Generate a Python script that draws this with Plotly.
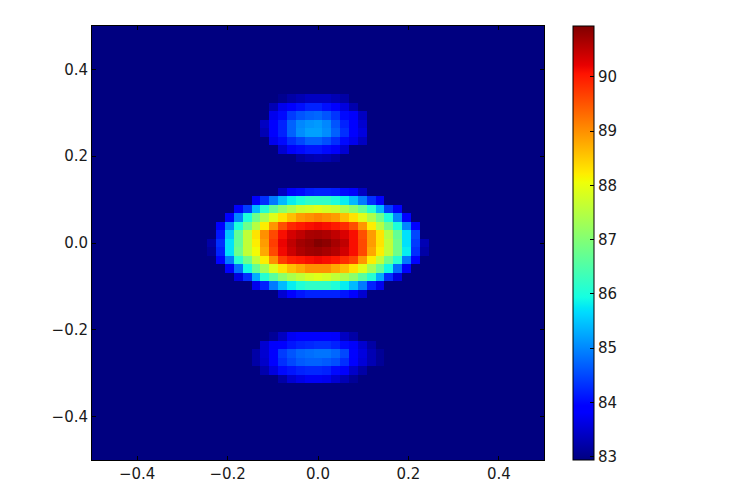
import plotly.graph_objects as go

GRID_SIZE = 51
FLOOR = 82.94

# (row from top, first column, values); everything else sits at the floor value
upper_lobe = [
    (8, 21, [83.05, 83.2, 83.3, 83.4, 83.4, 83.4, 83.3, 83.2]),
    (9, 20, [83.3, 83.7, 83.9, 84.05, 84.2, 84.2, 84.05, 83.9, 83.6, 83.25]),
    (10, 20, [83.7, 84.0, 84.4, 84.6, 84.7, 84.75, 84.6, 84.35, 84.0, 83.8, 83.4]),
    (11, 19, [83.4, 83.9, 84.2, 84.7, 85.0, 85.1, 85.15, 85.0, 84.6, 84.2, 83.9, 83.5]),
    (12, 19, [83.3, 83.9, 84.2, 84.7, 85.05, 85.2, 85.2, 85.05, 84.7, 84.3, 83.9, 83.6]),
    (13, 20, [83.7, 84.0, 84.3, 84.5, 84.7, 84.7, 84.55, 84.3, 84.0, 83.7, 83.4]),
    (14, 21, [83.5, 83.8, 84.0, 84.1, 84.1, 84.0, 83.8, 83.5]),
    (15, 23, [83.15, 83.25, 83.3, 83.25, 83.15]),
]

central_lobe = [
    (19, 21, [83.4, 83.8, 84.0, 84.15, 84.2, 84.2, 84.15, 84.0, 83.8, 83.4]),
    (20, 18, [83.8, 84.3, 84.9, 85.4, 85.8, 86.0, 86.2, 86.2, 86.2, 86.0, 85.8, 85.4, 84.9, 84.3, 83.8]),
    (21, 16, [83.8, 84.4, 85.4, 86.1, 86.7, 87.1, 87.4, 87.7, 87.8, 87.9, 87.8, 87.7, 87.4, 87.1, 86.7, 86.1, 85.4, 84.4, 83.8]),
    (22, 15, [83.9, 85.0, 86.0, 86.8, 87.4, 87.9, 88.3, 88.6, 88.9, 89.0, 89.1, 89.0, 88.9, 88.6, 88.3, 87.9, 87.4, 86.8, 86.0, 85.0, 83.9]),
    (23, 14, [83.9, 85.0, 86.0, 86.8, 87.5, 88.2, 88.95, 89.55, 89.9, 90.02, 90.1, 90.15, 90.1, 90.0, 89.85, 89.55, 88.95, 88.2, 87.5, 86.8, 86.0, 85.0, 83.9]),
    (24, 14, [84.1, 85.5, 86.7, 87.6, 88.3, 89.0, 89.6, 90.1, 90.35, 90.5, 90.65, 90.68, 90.62, 90.5, 90.32, 90.1, 89.55, 88.9, 88.3, 87.5, 86.7, 85.7, 84.5]),
    (25, 13, [83.2, 84.3, 85.7, 86.7, 87.6, 88.2, 88.9, 89.7, 90.2, 90.5, 90.7, 90.78, 90.92, 90.85, 90.68, 90.5, 90.1, 89.6, 88.9, 88.3, 87.6, 86.8, 85.7, 84.4, 83.3]),
    (26, 13, [83.1, 84.2, 85.7, 86.8, 87.6, 88.1, 88.8, 89.6, 90.15, 90.42, 90.62, 90.72, 90.75, 90.68, 90.57, 90.38, 90.1, 89.6, 88.8, 88.2, 87.6, 86.8, 85.8, 84.3, 83.2]),
    (27, 14, [83.9, 84.9, 86.1, 86.8, 87.6, 88.2, 89.0, 89.7, 89.95, 90.03, 90.1, 90.15, 90.1, 90.03, 89.85, 89.65, 88.95, 88.2, 87.6, 86.8, 86.1, 84.9, 83.9]),
    (28, 15, [83.8, 84.8, 85.9, 86.7, 87.3, 87.9, 88.3, 88.6, 88.8, 89.0, 89.0, 89.0, 88.8, 88.6, 88.3, 87.9, 87.3, 86.7, 85.9, 84.8, 83.8]),
    (29, 16, [83.6, 84.3, 85.3, 86.1, 86.6, 87.1, 87.4, 87.6, 87.8, 87.9, 87.8, 87.6, 87.4, 87.1, 86.6, 86.1, 85.3, 84.3, 83.6]),
    (30, 18, [83.7, 84.2, 84.9, 85.4, 85.8, 86.05, 86.2, 86.2, 86.2, 86.05, 85.8, 85.4, 84.9, 84.2, 83.7]),
    (31, 21, [83.5, 83.9, 84.1, 84.2, 84.2, 84.2, 84.2, 84.1, 83.9, 83.5]),
]

lower_lobe = [
    (36, 20, [83.1, 83.4, 83.75, 83.85, 83.9, 83.9, 83.9, 83.8, 83.4, 83.2]),
    (37, 19, [83.5, 83.8, 83.9, 84.1, 84.2, 84.25, 84.3, 84.3, 84.2, 84.0, 83.8, 83.5, 83.2]),
    (38, 18, [83.2, 83.5, 83.9, 84.4, 84.6, 84.75, 84.8, 84.85, 84.85, 84.75, 84.5, 83.95, 83.6, 83.3, 83.1]),
    (39, 18, [83.2, 83.45, 83.85, 84.3, 84.5, 84.65, 84.7, 84.7, 84.65, 84.55, 84.3, 83.9, 83.55, 83.3, 83.1]),
    (40, 19, [83.25, 83.6, 84.0, 84.1, 84.2, 84.25, 84.25, 84.2, 84.0, 83.8, 83.45, 83.2]),
    (41, 21, [83.2, 83.5, 83.65, 83.75, 83.75, 83.7, 83.5, 83.3, 83.1]),
]

xy_ticks = [-0.4, -0.2, 0.0, 0.2, 0.4]
colorbar_ticks = [83, 84, 85, 86, 87, 88, 89, 90]

jet = [
    [0.0, "rgb(0,0,128)"], [0.11, "rgb(0,0,255)"], [0.125, "rgb(0,0,255)"],
    [0.34, "rgb(0,219,255)"], [0.35, "rgb(0,230,247)"], [0.375, "rgb(21,255,226)"],
    [0.64, "rgb(239,255,8)"], [0.65, "rgb(247,246,0)"], [0.66, "rgb(255,236,0)"],
    [0.89, "rgb(255,19,0)"], [0.91, "rgb(232,0,0)"], [1.0, "rgb(128,0,0)"],
]

z = [[FLOOR] * GRID_SIZE for _ in range(GRID_SIZE)]
for row, start, values in upper_lobe + central_lobe + lower_lobe:
    for offset, value in enumerate(values):
        z[row][start + offset] = value

cell = 1 / GRID_SIZE
FONT = dict(family="DejaVu Sans", size=15, color="#1a1a1a")

fig = go.Figure(
    go.Heatmap(
        z=z,
        x0=-0.5 + cell / 2, dx=cell,
        y0=0.5 - cell / 2, dy=-cell,
        zmin=82.94, zmax=90.94,
        colorscale=jet,
        hoverinfo="skip",
        colorbar=dict(
            thickness=21, thicknessmode="pixels", len=1, lenmode="fraction",
            x=(573 - 92) / 452, xanchor="left", y=0.5, yanchor="middle",
            xpad=0, ypad=0,
            tickvals=colorbar_ticks, ticks="inside", ticklen=4, tickwidth=1,
            tickcolor="#000000", tickfont=FONT,
            outlinecolor="#000000", outlinewidth=1, borderwidth=0,
        ),
    )
)
axis = dict(
    range=[-0.5, 0.5], tickvals=xy_ticks, tickformat=".1f",
    ticks="inside", ticklen=4, tickwidth=1, tickcolor="#000000",
    showline=True, linecolor="#000000", linewidth=1, mirror="allticks",
    showgrid=False, zeroline=False, tickfont=FONT,
)
fig.update_layout(
    width=730, height=486, autosize=False,
    margin=dict(l=84, r=194, t=18, b=34, pad=0, autoexpand=False),
    paper_bgcolor="white", plot_bgcolor="white",
    xaxis=axis, yaxis=axis,
)
fig.write_html("out.html")
